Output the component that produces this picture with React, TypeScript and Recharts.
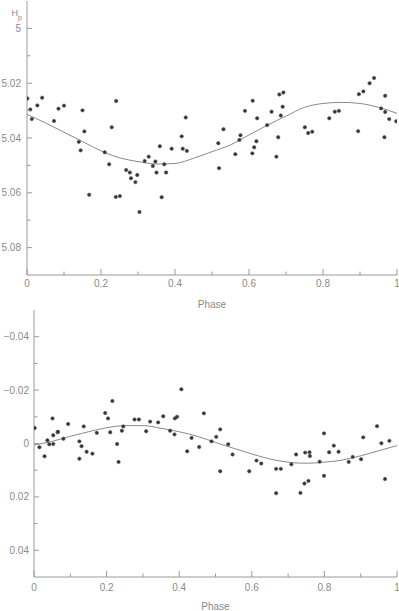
import {
  ComposedChart,
  Line,
  Scatter,
  XAxis,
  YAxis
} from "recharts";

// Hp magnitude vs phase (upper panel)
const HP_POINTS: [number, number][] = [
  [0.001, 5.0256], [0.009, 5.0296], [0.013, 5.0331], [0.028, 5.0281], [0.041, 5.0253],
  [0.073, 5.0338], [0.085, 5.0293], [0.1, 5.0282], [0.14, 5.0414], [0.145, 5.0445],
  [0.15, 5.0299], [0.155, 5.0376], [0.168, 5.0607], [0.21, 5.0452], [0.222, 5.0496],
  [0.229, 5.0361], [0.24, 5.0615], [0.241, 5.0265], [0.251, 5.0612], [0.268, 5.0517],
  [0.278, 5.0526], [0.281, 5.0547], [0.293, 5.0561], [0.298, 5.0535], [0.304, 5.067],
  [0.318, 5.0484], [0.329, 5.0468], [0.34, 5.0502], [0.347, 5.0486], [0.35, 5.0526],
  [0.359, 5.043], [0.364, 5.0616], [0.371, 5.0496], [0.376, 5.0526], [0.391, 5.0439],
  [0.418, 5.0394], [0.421, 5.0439], [0.429, 5.0325], [0.432, 5.0447], [0.517, 5.0419],
  [0.519, 5.051], [0.531, 5.0368], [0.563, 5.0459], [0.574, 5.0407], [0.577, 5.039],
  [0.589, 5.0301], [0.609, 5.0456], [0.61, 5.0264], [0.614, 5.0434], [0.62, 5.0412],
  [0.622, 5.0328], [0.649, 5.0353], [0.661, 5.0304], [0.674, 5.0468], [0.679, 5.0397],
  [0.682, 5.0241], [0.686, 5.0318], [0.691, 5.0286], [0.693, 5.0234], [0.751, 5.0361],
  [0.76, 5.0382], [0.771, 5.0377], [0.817, 5.0328], [0.832, 5.0304], [0.843, 5.0301],
  [0.895, 5.0375], [0.897, 5.024], [0.909, 5.023], [0.926, 5.02], [0.938, 5.0181],
  [0.957, 5.0292], [0.966, 5.0397], [0.968, 5.0246], [0.968, 5.0305], [0.979, 5.0331],
  [0.998, 5.0339]
];

// residuals vs phase (lower panel)
const RES_POINTS: [number, number][] = [
  [0.002, -0.0058], [0.015, 0.0014], [0.029, 0.0048], [0.037, -0.0012], [0.042, 0.0003],
  [0.051, -0.0094], [0.053, -0.0031], [0.053, 0.0002], [0.065, -0.0042], [0.066, -0.0044],
  [0.081, -0.0018], [0.094, -0.0073], [0.125, -0.0008], [0.125, 0.0057], [0.131, 0.001],
  [0.137, -0.0064], [0.145, 0.0031], [0.161, 0.0038], [0.173, -0.004], [0.196, -0.0114],
  [0.204, -0.0094], [0.21, -0.0042], [0.216, -0.0159], [0.229, 0.0002], [0.233, 0.0069],
  [0.242, -0.0048], [0.246, -0.0064], [0.277, -0.009], [0.289, -0.009], [0.309, -0.0046],
  [0.32, -0.0082], [0.342, -0.0079], [0.356, -0.0102], [0.375, -0.0048], [0.387, -0.0034],
  [0.388, -0.0094], [0.394, -0.01], [0.406, -0.0203], [0.422, 0.0029], [0.434, -0.0021],
  [0.455, 0.0013], [0.468, -0.0113], [0.489, -0.0008], [0.502, -0.0025], [0.513, -0.0053],
  [0.513, 0.0104], [0.535, 0.0003], [0.547, 0.0041], [0.593, 0.0104], [0.613, 0.0064],
  [0.626, 0.0075], [0.667, 0.0095], [0.667, 0.0186], [0.68, 0.0095], [0.709, 0.0078],
  [0.722, 0.0041], [0.734, 0.0185], [0.745, 0.015], [0.747, 0.0034], [0.756, 0.014],
  [0.759, 0.0033], [0.76, 0.0047], [0.787, 0.0068], [0.799, -0.0038], [0.799, 0.0121],
  [0.813, 0.0033], [0.826, 0.0008], [0.839, 0.0031], [0.867, 0.0069], [0.878, 0.005],
  [0.901, 0.0059], [0.907, -0.0023], [0.945, -0.0065], [0.957, -0.0001], [0.967, 0.0133],
  [0.979, -0.001]
];

// fitted curves, read every 0.05 in phase
const FIT_PHASE = [0, 0.05, 0.1, 0.15, 0.2, 0.25, 0.3, 0.35, 0.4, 0.45, 0.5, 0.55, 0.6, 0.65, 0.7, 0.75, 0.8, 0.85, 0.9, 0.95, 1];
const HP_FIT = [5.0314, 5.0345, 5.0379, 5.0413, 5.0447, 5.0472, 5.0486, 5.0495, 5.0493, 5.0474, 5.045, 5.0425, 5.0389, 5.0353, 5.032, 5.0288, 5.0274, 5.027, 5.0274, 5.0288, 5.031];
const RES_FIT = [0.0006, -0.0008, -0.0027, -0.0044, -0.0059, -0.0067, -0.0067, -0.0057, -0.0044, -0.0027, -0.0004, 0.0018, 0.0039, 0.0058, 0.007, 0.0074, 0.007, 0.0062, 0.0046, 0.0027, 0.0008];

const X_TICKS = [0, 0.1, 0.2, 0.3, 0.4, 0.5, 0.6, 0.7, 0.8, 0.9, 1];
const HP_TICKS = [5, 5.01, 5.02, 5.03, 5.04, 5.05, 5.06, 5.07, 5.08];
const RES_TICKS = [-0.04, -0.03, -0.02, -0.01, 0, 0.01, 0.02, 0.03, 0.04];

const FRAME = "#9a9a9a";
const TEXT = "#8a8a8a";
const FONT = "'Liberation Sans', Arial, sans-serif";

type Orient = "bottom" | "top" | "left" | "right";

function makeTick(
  orient: Orient,
  isMajor: (v: number) => boolean,
  majorLen: number,
  fmt?: (v: number) => string,
  gap = 0
) {
  return (props: any) => {
    const { x, y, payload } = props;
    const v = payload.value as number;
    const major = isMajor(v);
    const len = major ? majorLen : 3.5;
    let line;
    if (orient === "bottom") line = <line x1={x} y1={y} x2={x} y2={y - len} />;
    else if (orient === "top") line = <line x1={x} y1={y} x2={x} y2={y + len} />;
    else if (orient === "left") line = <line x1={x} y1={y} x2={x + len} y2={y} />;
    else line = <line x1={x} y1={y} x2={x - len} y2={y} />;
    return (
      <g>
        <g stroke={FRAME} strokeWidth={1}>{line}</g>
        {fmt && major ? (
          orient === "bottom" ? (
            <text x={x} y={y + gap} textAnchor="middle" style={{ fill: TEXT }} fontSize={10} fontFamily={FONT}>
              {fmt(v)}
            </text>
          ) : (
            <text x={x - gap} y={y} dy="0.35em" textAnchor="end" style={{ fill: TEXT }} fontSize={10} fontFamily={FONT}>
              {fmt(v)}
            </text>
          )
        ) : null}
      </g>
    );
  };
}

const xMajor = (v: number) => Math.round(v * 10) % 2 === 0;
const hpMajor = (v: number) => Math.round((v - 5) * 100) % 2 === 0;
const resMajor = (v: number) => Math.round(v * 100) % 2 === 0;
const fmtX = (v: number) => String(Number(v.toFixed(1)));
const fmtHp = (v: number) => String(Number(v.toFixed(2)));
const fmtRes = (v: number) => (Math.abs(v) < 1e-9 ? "0" : v < 0 ? `\u2212${Math.abs(v).toFixed(2)}` : v.toFixed(2));

const Dot = (props: any) => (
  <circle cx={props.cx} cy={props.cy} r={1.7} fill="#333" stroke="#555" strokeWidth={0.6} />
);

const phaseLabel = (offset: number) => (props: any) => {
  const vb = props.viewBox;
  return (
    <text x={vb.x + vb.width / 2} y={vb.y + offset} textAnchor="middle" style={{ fill: TEXT }} fontSize={10} fontFamily={FONT}>
      Phase
    </text>
  );
};

const hpLabel = (props: any) => {
  const vb = props.viewBox;
  return (
    <text x={vb.x + 11.5} y={vb.y + 15} style={{ fill: TEXT }} stroke="none" fontFamily={FONT} fontSize={9}>
      H
      <tspan fontSize={7} dy={3.5}>p</tspan>
    </text>
  );
};

function Panel(props: {
  points: [number, number][];
  fit: number[];
  domain: [number, number];
  yTicks: number[];
  yMajor: (v: number) => boolean;
  yFmt: (v: number) => string;
  yWidth: number;
  yGap: number;
  top: number;
  height: number;
  xHeight: number;
  xGap: number;
  withHp?: boolean;
}) {
  const pts = props.points.map(([phase, mag]) => ({ phase, mag }));
  const fit = FIT_PHASE.map((phase, i) => ({ phase, mag: props.fit[i] }));
  return (
    <ComposedChart
      width={399}
      height={props.height}
      margin={{ top: props.top, right: 2, bottom: 0, left: 0 }}
    >
      <XAxis
        xAxisId="b"
        orientation="bottom"
        type="number"
        dataKey="phase"
        domain={[0, 1]}
        ticks={X_TICKS}
        interval={0}
        height={props.xHeight}
        tickSize={0}
        tickMargin={0}
        axisLine={{ stroke: FRAME }}
        tickLine={false}
        tick={makeTick("bottom", xMajor, 6, fmtX, props.xGap)}
        label={{ content: phaseLabel(32.5) }}
        allowDataOverflow
      />
      <XAxis
        xAxisId="t"
        orientation="top"
        type="number"
        domain={[0, 1]}
        ticks={X_TICKS}
        interval={0}
        height={0}
        tickSize={0}
        tickMargin={0}
        axisLine={{ stroke: FRAME }}
        tickLine={false}
        tick={makeTick("top", xMajor, 6)}
        allowDataOverflow
      />
      <YAxis
        yAxisId="l"
        orientation="left"
        type="number"
        domain={props.domain}
        reversed
        ticks={props.yTicks}
        interval={0}
        width={props.yWidth}
        tickSize={0}
        tickMargin={0}
        axisLine={{ stroke: FRAME }}
        tickLine={false}
        tick={makeTick("left", props.yMajor, 5, props.yFmt, props.yGap)}
        label={props.withHp ? { content: hpLabel } : undefined}
        allowDataOverflow
      />
      <YAxis
        yAxisId="r"
        orientation="right"
        type="number"
        domain={props.domain}
        reversed
        ticks={props.yTicks}
        interval={0}
        width={0}
        tickSize={0}
        tickMargin={0}
        axisLine={{ stroke: FRAME }}
        tickLine={false}
        tick={makeTick("right", props.yMajor, 5)}
        allowDataOverflow
      />
      <Line
        xAxisId="b"
        yAxisId="l"
        data={fit}
        dataKey="mag"
        type="monotone"
        stroke="#8a8a8a"
        strokeWidth={1}
        dot={false}
        isAnimationActive={false}
      />
      <Scatter
        xAxisId="b"
        yAxisId="l"
        data={pts}
        dataKey="mag"
        shape={Dot}
        isAnimationActive={false}
      />
    </ComposedChart>
  );
}

export default function App() {
  return (
    <div style={{ position: "absolute", left: 0, top: 0, width: 399, height: 611, background: "#fff" }}>
      <div style={{ position: "absolute", left: 0, top: 0 }}>
        <Panel
          points={HP_POINTS}
          fit={HP_FIT}
          domain={[4.99, 5.09]}
          yTicks={HP_TICKS}
          yMajor={hpMajor}
          yFmt={fmtHp}
          yWidth={27}
          yGap={6}
          top={1}
          height={310}
          xHeight={35}
          xGap={12}
          withHp
        />
      </div>
      <div style={{ position: "absolute", left: 0, top: 305 }}>
        <Panel
          points={RES_POINTS}
          fit={RES_FIT}
          domain={[-0.05, 0.05]}
          yTicks={RES_TICKS}
          yMajor={resMajor}
          yFmt={fmtRes}
          yWidth={34}
          yGap={5}
          top={5}
          height={306}
          xHeight={34}
          xGap={14}
        />
      </div>
    </div>
  );
}
